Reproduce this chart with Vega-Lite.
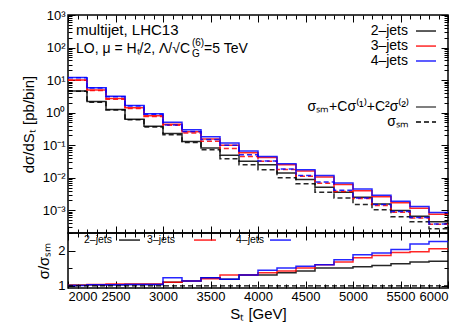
{
  "$schema": "https://vega.github.io/schema/vega-lite/v6.json",
  "padding": {"left": 20, "top": 8, "right": 22, "bottom": 0},
  "background": "white",
  "spacing": 0,
  "bounds": "flush",
  "resolve": {"scale": {"color": "independent", "strokeDash": "independent", "stroke": "independent"}},
  "datasets": {
    "hist": [
      {"st": 2000, "j2": 4.6, "j2sm": 4.5, "j3": 10, "j3sm": 9.8, "j4": 12, "j4sm": 11.9},
      {"st": 2200, "j2": 2.2, "j2sm": 2.1, "j3": 5.0, "j3sm": 4.8, "j4": 5.8, "j4sm": 5.7},
      {"st": 2400, "j2": 1.24, "j2sm": 1.2, "j3": 2.7, "j3sm": 2.57, "j4": 3.2, "j4sm": 3.1},
      {"st": 2600, "j2": 0.63, "j2sm": 0.6, "j3": 1.4, "j3sm": 1.33, "j4": 1.66, "j4sm": 1.6},
      {"st": 2800, "j2": 0.38, "j2sm": 0.36, "j3": 0.8, "j3sm": 0.76, "j4": 0.93, "j4sm": 0.89},
      {"st": 3000, "j2": 0.23, "j2sm": 0.21, "j3": 0.44, "j3sm": 0.41, "j4": 0.51, "j4sm": 0.42},
      {"st": 3200, "j2": 0.13, "j2sm": 0.12, "j3": 0.26, "j3sm": 0.236, "j4": 0.30, "j4sm": 0.265},
      {"st": 3400, "j2": 0.082, "j2sm": 0.072, "j3": 0.155, "j3sm": 0.131, "j4": 0.18, "j4sm": 0.15},
      {"st": 3600, "j2": 0.049, "j2sm": 0.038, "j3": 0.1, "j3sm": 0.079, "j4": 0.117, "j4sm": 0.099},
      {"st": 3800, "j2": 0.032, "j2sm": 0.025, "j3": 0.058, "j3sm": 0.045, "j4": 0.066, "j4sm": 0.051},
      {"st": 4000, "j2": 0.025, "j2sm": 0.0175, "j3": 0.042, "j3sm": 0.032, "j4": 0.045, "j4sm": 0.0326},
      {"st": 4200, "j2": 0.014, "j2sm": 0.010, "j3": 0.025, "j3sm": 0.018, "j4": 0.027, "j4sm": 0.0186},
      {"st": 4400, "j2": 0.0088, "j2sm": 0.0065, "j3": 0.016, "j3sm": 0.011, "j4": 0.0175, "j4sm": 0.0117},
      {"st": 4600, "j2": 0.0051, "j2sm": 0.0036, "j3": 0.0105, "j3sm": 0.0068, "j4": 0.0117, "j4sm": 0.0074},
      {"st": 4800, "j2": 0.0036, "j2sm": 0.0024, "j3": 0.0062, "j3sm": 0.0038, "j4": 0.0069, "j4sm": 0.0041},
      {"st": 5000, "j2": 0.0025, "j2sm": 0.0015, "j3": 0.004, "j3sm": 0.0023, "j4": 0.0045, "j4sm": 0.0024},
      {"st": 5200, "j2": 0.00156, "j2sm": 0.00104, "j3": 0.0026, "j3sm": 0.0014, "j4": 0.0029, "j4sm": 0.00149},
      {"st": 5400, "j2": 0.00098, "j2sm": 0.00063, "j3": 0.0017, "j3sm": 0.00087, "j4": 0.0019, "j4sm": 0.00091},
      {"st": 5600, "j2": 0.00066, "j2sm": 0.00044, "j3": 0.00115, "j3sm": 0.00058, "j4": 0.0013, "j4sm": 0.0006},
      {"st": 5800, "j2": 0.00044, "j2sm": 0.00027, "j3": 0.00075, "j3sm": 0.00037, "j4": 0.00085, "j4sm": 0.00038},
      {"st": 6000, "j2": 0.00044, "j2sm": 0.00027, "j3": 0.00075, "j3sm": 0.00037, "j4": 0.00085, "j4sm": 0.00038}
    ],
    "ratio": [
      {"st": 2000, "r2": 1.02, "r3": 1.02, "r4": 1.01, "sm": 1},
      {"st": 2200, "r2": 1.03, "r3": 1.04, "r4": 1.03, "sm": 1},
      {"st": 2400, "r2": 1.03, "r3": 1.05, "r4": 1.03, "sm": 1},
      {"st": 2600, "r2": 1.04, "r3": 1.05, "r4": 1.04, "sm": 1},
      {"st": 2800, "r2": 1.04, "r3": 1.05, "r4": 1.04, "sm": 1},
      {"st": 3000, "r2": 1.10, "r3": 1.10, "r4": 1.23, "sm": 1},
      {"st": 3200, "r2": 1.14, "r3": 1.14, "r4": 1.14, "sm": 1},
      {"st": 3400, "r2": 1.23, "r3": 1.20, "r4": 1.23, "sm": 1},
      {"st": 3600, "r2": 1.19, "r3": 1.31, "r4": 1.19, "sm": 1},
      {"st": 3800, "r2": 1.31, "r3": 1.31, "r4": 1.31, "sm": 1},
      {"st": 4000, "r2": 1.31, "r3": 1.37, "r4": 1.44, "sm": 1},
      {"st": 4200, "r2": 1.37, "r3": 1.42, "r4": 1.51, "sm": 1},
      {"st": 4400, "r2": 1.42, "r3": 1.51, "r4": 1.56, "sm": 1},
      {"st": 4600, "r2": 1.51, "r3": 1.60, "r4": 1.60, "sm": 1},
      {"st": 4800, "r2": 1.51, "r3": 1.68, "r4": 1.74, "sm": 1},
      {"st": 5000, "r2": 1.54, "r3": 1.80, "r4": 1.88, "sm": 1},
      {"st": 5200, "r2": 1.58, "r3": 1.86, "r4": 1.93, "sm": 1},
      {"st": 5400, "r2": 1.63, "r3": 1.95, "r4": 2.03, "sm": 1},
      {"st": 5600, "r2": 1.68, "r3": 1.97, "r4": 2.19, "sm": 1},
      {"st": 5800, "r2": 1.70, "r3": 2.05, "r4": 2.26, "sm": 1},
      {"st": 6000, "r2": 1.70, "r3": 2.05, "r4": 2.26, "sm": 1}
    ]
  },
  "vconcat": [
    {
      "width": 380,
      "height": 218,
      "resolve": {"axis": {"x": "independent", "y": "independent"}},
      "layer": [
        {
          "data": {"name": "hist"},
          "transform": [{"fold": ["j2", "j2sm", "j3", "j3sm", "j4", "j4sm"], "as": ["series", "v"]}],
          "mark": {"type": "line", "interpolate": "step-after", "strokeWidth": 1.5, "opacity": 0.85, "clip": true},
          "encoding": {
            "x": {"field": "st", "type": "quantitative",
                  "scale": {"domain": [2000, 6000], "nice": false, "zero": false},
                  "axis": {"orient": "bottom", "labels": false, "title": null,
                           "values": [2000,2100,2200,2300,2400,2500,2600,2700,2800,2900,3000,3100,3200,3300,3400,3500,3600,3700,3800,3900,4000,4100,4200,4300,4400,4500,4600,4700,4800,4900,5000,5100,5200,5300,5400,5500,5600,5700,5800,5900,6000],
                           "tickSize": {"condition": {"test": "datum.value % 500 === 0", "value": -7}, "value": -4}}},
            "y": {"field": "v", "type": "quantitative",
                  "scale": {"type": "log", "domain": [0.0002, 1000], "nice": false},
                  "axis": {"orient": "left", "title": "dσ/dSₜ [pb/bin]", "titlePadding": 6,
                           "values": [0.0002,0.0003,0.0004,0.0005,0.0006,0.0007,0.0008,0.0009,0.001,0.002,0.003,0.004,0.005,0.006,0.007,0.008,0.009,0.01,0.02,0.03,0.04,0.05,0.06,0.07,0.08,0.09,0.1,0.2,0.3,0.4,0.5,0.6,0.7,0.8,0.9,1,2,3,4,5,6,7,8,9,10,20,30,40,50,60,70,80,90,100,200,300,400,500,600,700,800,900,1000],
                           "labelPadding": 10, "labelOverlap": false,
                           "labelExpr": "abs(log(datum.value)/LN10 - round(log(datum.value)/LN10)) < 0.001 ? '10' + replace(replace(replace(replace(replace('' + round(log(datum.value)/LN10), '-', '⁻'), '1', '¹'), '2', '²'), '3', '³'), '0', '⁰') : ''",
                           "tickSize": {"condition": {"test": "abs(log(datum.value)/LN10 - round(log(datum.value)/LN10)) < 0.001", "value": -7}, "value": -4}}},
            "color": {"field": "series", "type": "nominal", "legend": null,
                      "scale": {"domain": ["j2", "j2sm", "j3", "j3sm", "j4", "j4sm"], "range": ["#000000", "#000000", "#ff0000", "#ff0000", "#0000ff", "#0000ff"]}},
            "strokeDash": {"field": "series", "type": "nominal", "legend": null,
                           "scale": {"domain": ["j2", "j2sm", "j3", "j3sm", "j4", "j4sm"], "range": [[1, 0], [5, 3], [1, 0], [5, 3], [1, 0], [5, 3]]}}
          }
        },
        {
          "data": {"values": [
            {"x": 5663, "x2": 5874, "y": 322, "series": "j2"},
            {"x": 5663, "x2": 5874, "y": 111, "series": "j3"},
            {"x": 5663, "x2": 5874, "y": 38.6, "series": "j4"}
          ]},
          "mark": {"type": "rule", "strokeWidth": 1.5, "opacity": 0.85},
          "encoding": {
            "x": {"field": "x", "type": "quantitative",
                  "axis": {"orient": "top", "labels": false, "title": null,
                           "values": [2000,2100,2200,2300,2400,2500,2600,2700,2800,2900,3000,3100,3200,3300,3400,3500,3600,3700,3800,3900,4000,4100,4200,4300,4400,4500,4600,4700,4800,4900,5000,5100,5200,5300,5400,5500,5600,5700,5800,5900,6000],
                           "tickSize": {"condition": {"test": "datum.value % 500 === 0", "value": -7}, "value": -4}}},
            "x2": {"field": "x2"},
            "y": {"field": "y", "type": "quantitative",
                  "axis": {"orient": "right", "labels": false, "title": null,
                           "values": [0.0002,0.0003,0.0004,0.0005,0.0006,0.0007,0.0008,0.0009,0.001,0.002,0.003,0.004,0.005,0.006,0.007,0.008,0.009,0.01,0.02,0.03,0.04,0.05,0.06,0.07,0.08,0.09,0.1,0.2,0.3,0.4,0.5,0.6,0.7,0.8,0.9,1,2,3,4,5,6,7,8,9,10,20,30,40,50,60,70,80,90,100,200,300,400,500,600,700,800,900,1000],
                           "tickSize": {"condition": {"test": "abs(log(datum.value)/LN10 - round(log(datum.value)/LN10)) < 0.001", "value": -7}, "value": -4}}},
            "color": {"field": "series", "type": "nominal", "legend": null}
          }
        },
        {
          "data": {"values": [
            {"x": 5663, "x2": 5874, "y": 1.49, "kind": "full"},
            {"x": 5663, "x2": 5874, "y": 0.515, "kind": "SM"}
          ]},
          "mark": {"type": "rule", "strokeWidth": 1.5},
          "encoding": {
            "x": {"field": "x", "type": "quantitative", "axis": null},
            "x2": {"field": "x2"},
            "y": {"field": "y", "type": "quantitative", "axis": null},
            "strokeDash": {"field": "kind", "type": "nominal", "legend": null,
                           "scale": {"domain": ["full", "SM"], "range": [[1, 0], [5, 3]]}},
            "stroke": {"field": "kind", "type": "nominal", "legend": null,
                       "scale": {"domain": ["full", "SM"], "range": ["#555555", "#000000"]}}
          }
        },
        {
          "data": {"values": [
            {"x": 5579, "y": 322, "label": "2–jets"},
            {"x": 5579, "y": 111, "label": "3–jets"},
            {"x": 5579, "y": 38.6, "label": "4–jets"},
            {"x": 5589, "y": 1.49, "label": "σₛₘ+Cσ⁽¹⁾+C²σ⁽²⁾"},
            {"x": 5589, "y": 0.515, "label": "σₛₘ"}
          ]},
          "mark": {"type": "text", "align": "right", "baseline": "middle", "fontSize": 14, "font": "Liberation Sans", "color": "#000000"},
          "encoding": {
            "x": {"field": "x", "type": "quantitative", "axis": null},
            "y": {"field": "y", "type": "quantitative", "axis": null},
            "text": {"field": "label"}
          }
        },
        {
          "data": {"values": [
            {"x": 2084, "y": 340, "label": "multijet, LHC13"}
          ]},
          "mark": {"type": "text", "align": "left", "baseline": "middle", "fontSize": 15, "font": "Liberation Sans", "color": "#000000"},
          "encoding": {
            "x": {"field": "x", "type": "quantitative", "axis": null},
            "y": {"field": "y", "type": "quantitative", "axis": null},
            "text": {"field": "label"}
          }
        },
        {
          "data": {"values": [
            {"x": 2084, "y": 68, "label": "LO, μ = Hₜ/2, Λ/√C"},
            {"x": 3432, "y": 68, "label": "=5 TeV"}
          ]},
          "mark": {"type": "text", "align": "left", "baseline": "alphabetic", "fontSize": 14, "font": "Liberation Sans", "color": "#000000"},
          "encoding": {
            "x": {"field": "x", "type": "quantitative", "axis": null},
            "y": {"field": "y", "type": "quantitative", "axis": null},
            "text": {"field": "label"}
          }
        },
        {
          "data": {"values": [
            {"x": 3305, "y": 51, "label": "G"},
            {"x": 3305, "y": 111, "label": "(6)"}
          ]},
          "mark": {"type": "text", "align": "left", "baseline": "alphabetic", "fontSize": 10, "font": "Liberation Sans", "color": "#000000"},
          "encoding": {
            "x": {"field": "x", "type": "quantitative", "axis": null},
            "y": {"field": "y", "type": "quantitative", "axis": null},
            "text": {"field": "label"}
          }
        }
      ]
    },
    {
      "width": 380,
      "height": 55,
      "resolve": {"axis": {"x": "independent", "y": "independent"}},
      "layer": [
        {
          "data": {"name": "ratio"},
          "transform": [{"fold": ["r2", "r3", "r4"], "as": ["series", "r"]}],
          "mark": {"type": "line", "interpolate": "step-after", "strokeWidth": 1.5, "opacity": 0.85, "clip": true},
          "encoding": {
            "x": {"field": "st", "type": "quantitative",
                  "scale": {"domain": [2000, 6000], "nice": false, "zero": false},
                  "axis": {"orient": "bottom", "title": "Sₜ [GeV]", "titlePadding": 0, "format": "d",
                           "labelPadding": 9, "labelOverlap": false,
                           "labelExpr": "datum.value % 500 === 0 ? datum.label : ''",
                           "values": [2000,2100,2200,2300,2400,2500,2600,2700,2800,2900,3000,3100,3200,3300,3400,3500,3600,3700,3800,3900,4000,4100,4200,4300,4400,4500,4600,4700,4800,4900,5000,5100,5200,5300,5400,5500,5600,5700,5800,5900,6000],
                           "tickSize": {"condition": {"test": "datum.value % 500 === 0", "value": -7}, "value": -4}}},
            "y": {"field": "r", "type": "quantitative",
                  "scale": {"domain": [0.94, 2.5], "nice": false, "zero": false},
                  "axis": {"orient": "left", "title": "σ/σₛₘ", "titlePadding": 6,
                           "values": [1, 1.5, 2], "labelPadding": 10, "labelOverlap": false,
                           "labelExpr": "datum.value == 1 || datum.value == 2 ? '' + datum.value : ''",
                           "tickSize": {"condition": {"test": "datum.value == 1 || datum.value == 2", "value": -7}, "value": -4}}},
            "color": {"field": "series", "type": "nominal", "legend": null,
                      "scale": {"domain": ["r2", "r3", "r4"], "range": ["#000000", "#ff0000", "#0000ff"]}}
          }
        },
        {
          "data": {"name": "ratio"},
          "mark": {"type": "line", "strokeWidth": 1.2, "strokeDash": [5, 3], "color": "#000000", "clip": true},
          "encoding": {
            "x": {"field": "st", "type": "quantitative",
                  "axis": {"orient": "top", "labels": false, "title": null,
                           "values": [2000,2100,2200,2300,2400,2500,2600,2700,2800,2900,3000,3100,3200,3300,3400,3500,3600,3700,3800,3900,4000,4100,4200,4300,4400,4500,4600,4700,4800,4900,5000,5100,5200,5300,5400,5500,5600,5700,5800,5900,6000],
                           "tickSize": {"condition": {"test": "datum.value % 500 === 0", "value": -7}, "value": -4}}},
            "y": {"field": "sm", "type": "quantitative",
                  "axis": {"orient": "right", "labels": false, "title": null, "values": [1, 1.5, 2],
                           "tickSize": {"condition": {"test": "datum.value == 1 || datum.value == 2", "value": -7}, "value": -4}}}
          }
        },
        {
          "data": {"values": [
            {"x": 2537, "x2": 2758, "y": 2.3, "series": "r2"},
            {"x": 3326, "x2": 3558, "y": 2.3, "series": "r3"},
            {"x": 4126, "x2": 4347, "y": 2.3, "series": "r4"}
          ]},
          "mark": {"type": "rule", "strokeWidth": 1.3},
          "encoding": {
            "x": {"field": "x", "type": "quantitative", "axis": null},
            "x2": {"field": "x2"},
            "y": {"field": "y", "type": "quantitative", "axis": null},
            "color": {"field": "series", "type": "nominal", "legend": null}
          }
        },
        {
          "data": {"values": [
            {"x": 2168, "y": 2.3, "label": "2–jets"},
            {"x": 2832, "y": 2.3, "label": "3–jets"},
            {"x": 3768, "y": 2.3, "label": "4–jets"}
          ]},
          "mark": {"type": "text", "align": "left", "baseline": "middle", "fontSize": 10.5, "font": "Liberation Sans", "color": "#000000"},
          "encoding": {
            "x": {"field": "x", "type": "quantitative", "axis": null},
            "y": {"field": "y", "type": "quantitative", "axis": null},
            "text": {"field": "label"}
          }
        }
      ]
    }
  ],
  "config": {
    "view": {"stroke": "#000000", "strokeWidth": 1.5},
    "axis": {
      "domain": false, "grid": false, "tickColor": "#000000", "tickWidth": 1,
      "labelFont": "Liberation Sans", "labelFontSize": 13, "labelColor": "#000000",
      "titleFont": "Liberation Sans", "titleFontSize": 15, "titleFontWeight": "normal", "titleColor": "#000000"
    }
  }
}
